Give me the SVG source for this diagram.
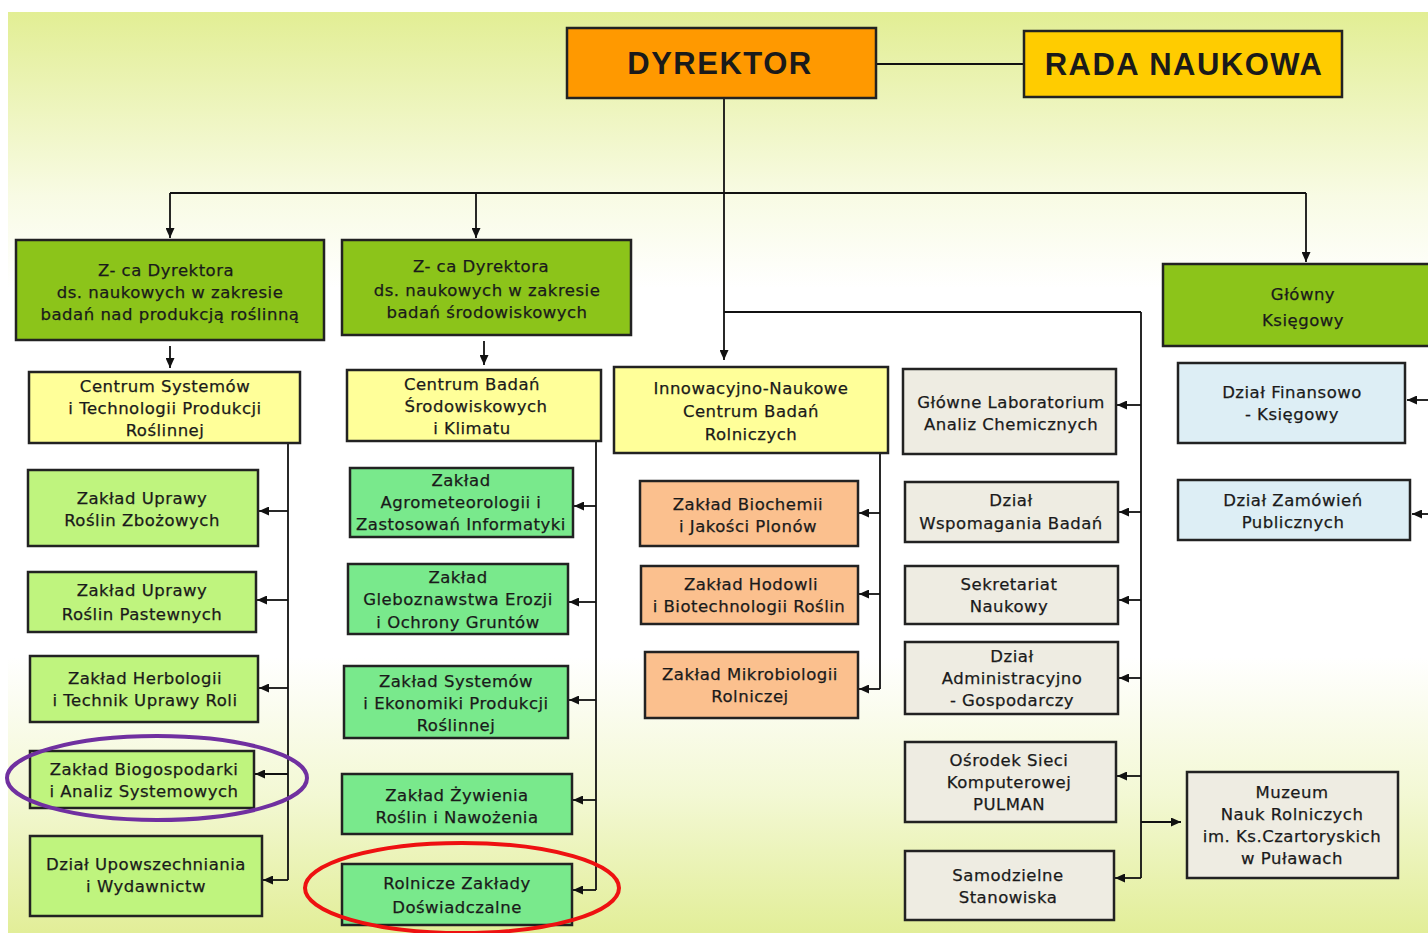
<svg xmlns="http://www.w3.org/2000/svg" width="1428" height="933" viewBox="0 0 1428 933">
<defs>
<linearGradient id="bg" x1="0" y1="0" x2="0" y2="1">
<stop offset="0" stop-color="#e2ee94"/>
<stop offset="0.2" stop-color="#f8fbe4"/>
<stop offset="0.3" stop-color="#ffffff"/>
<stop offset="0.7" stop-color="#ffffff"/>
<stop offset="0.85" stop-color="#f3f8d4"/>
<stop offset="1" stop-color="#e2ee98"/>
</linearGradient>
<marker id="ah" markerWidth="10" markerHeight="9" refX="10" refY="4.5" orient="auto" markerUnits="userSpaceOnUse">
<path d="M0,0 L10,4.5 L0,9 z" fill="#111"/>
</marker>
<style>
.b{stroke:#222;stroke-width:2.5}
.dir{fill:#ff9900}
.rada{fill:#ffcc00}
.zca{fill:#8cc41a}
.cen{fill:#ffff99}
.lg{fill:#bff47e}
.mg{fill:#79e98c}
.or{fill:#fbc08e}
.gr{fill:#eeece2}
.bl{fill:#ddeef5}
text{font-family:"DejaVu Sans","Liberation Sans",sans-serif;font-size:16.5px;letter-spacing:0.5px;fill:#1a1a1a;stroke:#1a1a1a;stroke-width:0.25;text-anchor:middle}
.big{font-family:"Liberation Sans",Arial,sans-serif;font-size:31px;font-weight:bold;letter-spacing:1.5px;stroke:none}
.c line,.c path{stroke:#111;stroke-width:1.8;fill:none}
.a{marker-end:url(#ah)}
</style>
</defs>
<rect x="0" y="0" width="1428" height="933" fill="#ffffff"/>
<rect x="8" y="12" width="1420" height="921" fill="url(#bg)"/>

<g class="c" id="connectors">
<line x1="876" y1="64" x2="1024" y2="64"/>
<line x1="724" y1="98" x2="724" y2="193"/>
<line x1="170" y1="193" x2="1306" y2="193"/>
<line class="a" x1="170" y1="193" x2="170" y2="238"/>
<line class="a" x1="476" y1="193" x2="476" y2="238"/>
<line class="a" x1="1306" y1="193" x2="1306" y2="262"/>
<line class="a" x1="724" y1="193" x2="724" y2="360"/>
<line x1="724" y1="312" x2="1141" y2="312"/>
<line x1="1141" y1="312" x2="1141" y2="878"/>
<line class="a" x1="170" y1="346" x2="170" y2="368"/>
<line class="a" x1="484" y1="341" x2="484" y2="365"/>
<line x1="288" y1="443" x2="288" y2="880"/>
<line class="a" x1="288" y1="511" x2="259" y2="511"/>
<line class="a" x1="288" y1="600" x2="257" y2="600"/>
<line class="a" x1="288" y1="688" x2="259" y2="688"/>
<line class="a" x1="288" y1="774" x2="255" y2="774"/>
<line class="a" x1="288" y1="880" x2="263" y2="880"/>
<line x1="596" y1="441" x2="596" y2="890"/>
<line class="a" x1="596" y1="506" x2="574" y2="506"/>
<line class="a" x1="596" y1="602" x2="569" y2="602"/>
<line class="a" x1="596" y1="700" x2="569" y2="700"/>
<line class="a" x1="596" y1="800" x2="573" y2="800"/>
<line class="a" x1="596" y1="890" x2="573" y2="890"/>
<line x1="880" y1="453" x2="880" y2="689"/>
<line class="a" x1="880" y1="513" x2="859" y2="513"/>
<line class="a" x1="880" y1="594" x2="859" y2="594"/>
<line class="a" x1="880" y1="689" x2="859" y2="689"/>
<line class="a" x1="1141" y1="405" x2="1117" y2="405"/>
<line class="a" x1="1141" y1="512" x2="1119" y2="512"/>
<line class="a" x1="1141" y1="600" x2="1119" y2="600"/>
<line class="a" x1="1141" y1="678" x2="1119" y2="678"/>
<line class="a" x1="1141" y1="776" x2="1117" y2="776"/>
<line class="a" x1="1141" y1="878" x2="1115" y2="878"/>
<line class="a" x1="1141" y1="822" x2="1181" y2="822"/>
<line class="a" x1="1428" y1="400" x2="1407" y2="400"/>
<line class="a" x1="1428" y1="514" x2="1412" y2="514"/>
</g>

<g id="dyrektor"><rect class="b dir" x="567" y="28" width="309" height="70"/><text class="big" x="720" y="74">DYREKTOR</text></g>
<g id="rada"><rect class="b rada" x="1024" y="31" width="318" height="66"/><text class="big" x="1184" y="75">RADA NAUKOWA</text></g>

<g id="zca1"><rect class="b zca" x="16" y="240" width="308" height="100"/><text x="166" y="276">Z- ca Dyrektora</text><text x="170" y="298">ds. naukowych w zakresie</text><text x="170" y="320">badań nad produkcją roślinną</text></g>
<g id="zca2"><rect class="b zca" x="342" y="240" width="289" height="95"/><text x="481" y="272">Z- ca Dyrektora</text><text x="487" y="296">ds. naukowych w zakresie</text><text x="487" y="318">badań środowiskowych</text></g>
<g id="ksiegowy"><rect class="b zca" x="1163" y="264" width="275" height="82"/><text x="1303" y="300">Główny</text><text x="1303" y="326">Księgowy</text></g>

<g id="centrum1"><rect class="b cen" x="29" y="372" width="271" height="71"/><text x="165" y="392">Centrum Systemów</text><text x="165" y="414">i Technologii Produkcji</text><text x="165" y="436">Roślinnej</text></g>
<g id="centrum2"><rect class="b cen" x="347" y="370" width="254" height="71"/><text x="472" y="390">Centrum Badań</text><text x="476" y="412">Środowiskowych</text><text x="472" y="434">i Klimatu</text></g>
<g id="innow"><rect class="b cen" x="614" y="367" width="274" height="86"/><text x="751" y="394">Innowacyjno-Naukowe</text><text x="751" y="417">Centrum  Badań</text><text x="751" y="440">Rolniczych</text></g>

<g id="lab"><rect class="b gr" x="903" y="369" width="213" height="85"/><text x="1011" y="408">Główne Laboratorium</text><text x="1011" y="430">Analiz Chemicznych</text></g>
<g id="finanse"><rect class="b bl" x="1178" y="363" width="227" height="80"/><text x="1292" y="398">Dział Finansowo</text><text x="1292" y="420">- Księgowy</text></g>
<g id="zamowienia"><rect class="b bl" x="1178" y="480" width="232" height="60"/><text x="1293" y="506">Dział Zamówień</text><text x="1293" y="528">Publicznych</text></g>

<g id="zl1"><rect class="b lg" x="28" y="470" width="230" height="76"/><text x="142" y="504">Zakład Uprawy</text><text x="142" y="526">Roślin Zbożowych</text></g>
<g id="zl2"><rect class="b lg" x="28" y="572" width="228" height="60"/><text x="142" y="596">Zakład Uprawy</text><text x="142" y="620">Roślin Pastewnych</text></g>
<g id="zl3"><rect class="b lg" x="30" y="656" width="228" height="66"/><text x="145" y="684">Zakład Herbologii</text><text x="145" y="706">i Technik Uprawy Roli</text></g>
<g id="zl4"><rect class="b lg" x="30" y="751" width="224" height="57"/><text x="144" y="775">Zakład Biogospodarki</text><text x="144" y="797">i Analiz Systemowych</text></g>
<g id="zl5"><rect class="b lg" x="30" y="836" width="232" height="80"/><text x="146" y="870">Dział Upowszechniania</text><text x="146" y="892">i Wydawnictw</text></g>

<g id="zm1"><rect class="b mg" x="350" y="468" width="223" height="69"/><text x="461" y="486">Zakład</text><text x="461" y="508">Agrometeorologii i</text><text x="461" y="530">Zastosowań Informatyki</text></g>
<g id="zm2"><rect class="b mg" x="348" y="564" width="220" height="70"/><text x="458" y="583">Zakład</text><text x="458" y="605">Gleboznawstwa Erozji</text><text x="458" y="628">i Ochrony Gruntów</text></g>
<g id="zm3"><rect class="b mg" x="344" y="666" width="224" height="72"/><text x="456" y="687">Zakład  Systemów</text><text x="456" y="709">i Ekonomiki Produkcji</text><text x="456" y="731">Roślinnej</text></g>
<g id="zm4"><rect class="b mg" x="342" y="774" width="230" height="60"/><text x="457" y="801">Zakład Żywienia</text><text x="457" y="823">Roślin i Nawożenia</text></g>
<g id="zm5"><rect class="b mg" x="342" y="864" width="230" height="61"/><text x="457" y="889">Rolnicze Zakłady</text><text x="457" y="913">Doświadczalne</text></g>

<g id="zo1"><rect class="b or" x="640" y="481" width="218" height="65"/><text x="748" y="510">Zakład Biochemii</text><text x="748" y="532">i Jakości Plonów</text></g>
<g id="zo2"><rect class="b or" x="641" y="566" width="217" height="58"/><text x="751" y="590">Zakład Hodowli</text><text x="749" y="612">i Biotechnologii Roślin</text></g>
<g id="zo3"><rect class="b or" x="645" y="652" width="213" height="66"/><text x="750" y="680">Zakład Mikrobiologii</text><text x="750" y="702">Rolniczej</text></g>

<g id="g1"><rect class="b gr" x="905" y="482" width="213" height="60"/><text x="1011" y="506">Dział</text><text x="1011" y="529">Wspomagania Badań</text></g>
<g id="g2"><rect class="b gr" x="905" y="566" width="213" height="58"/><text x="1009" y="590">Sekretariat</text><text x="1009" y="612">Naukowy</text></g>
<g id="g3"><rect class="b gr" x="905" y="642" width="213" height="72"/><text x="1012" y="662">Dział</text><text x="1012" y="684">Administracyjno</text><text x="1012" y="706">- Gospodarczy</text></g>
<g id="g4"><rect class="b gr" x="905" y="742" width="211" height="80"/><text x="1009" y="766">Ośrodek Sieci</text><text x="1009" y="788">Komputerowej</text><text x="1009" y="810">PULMAN</text></g>
<g id="g5"><rect class="b gr" x="905" y="851" width="209" height="69"/><text x="1008" y="881">Samodzielne</text><text x="1008" y="903">Stanowiska</text></g>
<g id="muzeum"><rect class="b gr" x="1187" y="772" width="211" height="106"/><text x="1292" y="798">Muzeum</text><text x="1292" y="820">Nauk Rolniczych</text><text x="1292" y="842">im. Ks.Czartoryskich</text><text x="1292" y="864">w Puławach</text></g>

<ellipse cx="157" cy="778" rx="150" ry="42" fill="none" stroke="#7030a0" stroke-width="4"/>
<ellipse cx="462" cy="888" rx="157" ry="45" fill="none" stroke="#ee1111" stroke-width="4"/>
</svg>
